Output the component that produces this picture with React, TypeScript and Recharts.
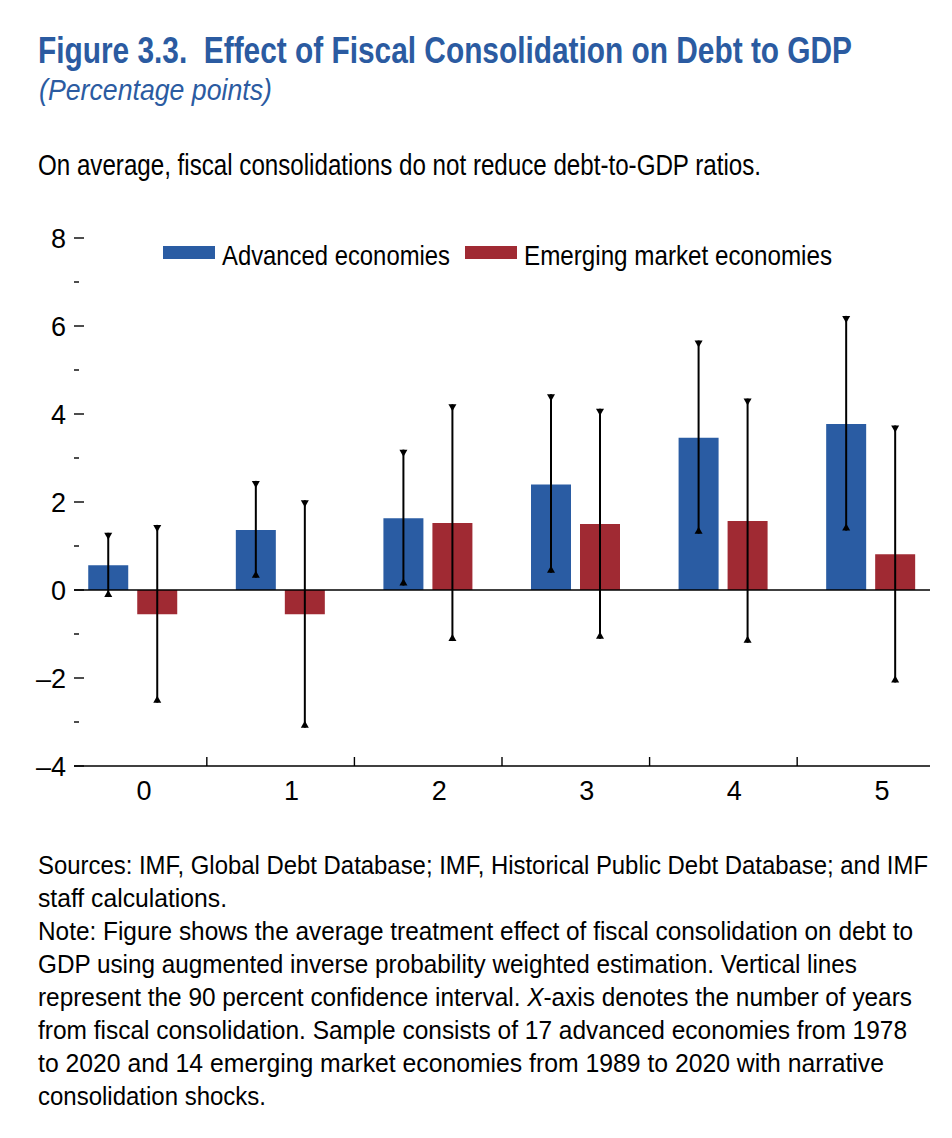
import {
  BarChart,
  Bar,
  XAxis,
  YAxis,
  ReferenceLine,
  Legend,
} from 'recharts'

const years = [0, 1, 2, 3, 4, 5]
const advanced = [0.565, 1.365, 1.63, 2.4, 3.46, 3.77]
const advancedLow = [-0.16, 0.28, 0.1, 0.39, 1.28, 1.35]
const advancedHigh = [1.3, 2.48, 3.19, 4.45, 5.67, 6.23]
const emerging = [-0.55, -0.55, 1.52, 1.5, 1.57, 0.81]
const emergingLow = [-2.56, -3.13, -1.16, -1.11, -1.2, -2.1]
const emergingHigh = [1.48, 2.04, 4.22, 4.12, 4.35, 3.74]

const yTicks = [-4, -3, -2, -1, 0, 1, 2, 3, 4, 5, 6, 7, 8]
const xTicks = [0, 0.5, 1, 1.5, 2, 2.5, 3, 3.5, 4, 4.5, 5]

const seriesNames = ['Advanced economies', 'Emerging market economies']

const notes = [
  'Sources: IMF, Global Debt Database; IMF, Historical Public Debt Database; and IMF',
  'staff calculations.',
  'Note: Figure shows the average treatment effect of fiscal consolidation on debt to',
  'GDP using augmented inverse probability weighted estimation. Vertical lines',
  'represent the 90 percent confidence interval. X-axis denotes the number of years',
  'from fiscal consolidation. Sample consists of 17 advanced economies from 1978',
  'to 2020 and 14 emerging market economies from 1989 to 2020 with narrative',
  'consolidation shocks.',
]
const noteWidths = [890, 189, 875, 819, 874, 869, 846, 228]

const data = years.map((year, i) => ({
  year,
  adv: advanced[i],
  advErr: [advancedLow[i], advancedHigh[i]],
  em: emerging[i],
  emErr: [emergingLow[i], emergingHigh[i]],
}))

const BLUE = '#2a5ca3'
const RED = '#a02a33'
const TITLE = '#2b5ba1'
const FONT = "'Liberation Sans Narrow', 'Liberation Sans', Arial, sans-serif"

const fmt = (v: number) => (v < 0 ? `\u2013${Math.abs(v)}` : `${v}`)

function LeftTick({ x, y, payload }: any) {
  const v = payload.value
  const major = v % 2 === 0
  return (
    <g>
      <line x1={x} x2={x + (major ? 10 : 5)} y1={y} y2={y} stroke="#000" strokeWidth={1.4} />
      {major && (
        <text x={x - 8} y={y} dy="0.36em" textAnchor="end" fontSize={27} fontFamily={FONT} fill="#000">
          {fmt(v)}
        </text>
      )}
    </g>
  )
}

function RightTick({ x, y, payload }: any) {
  const major = payload.value % 2 === 0
  return <line x1={x - (major ? 10 : 5)} x2={x} y1={y} y2={y} stroke="#000" strokeWidth={1.4} />
}

function BottomTick({ x, y, payload }: any) {
  const v = payload.value
  if (Number.isInteger(v)) {
    return (
      <text x={x + 11} y={y + 34} textAnchor="middle" fontSize={27} fontFamily={FONT} fill="#000">
        {v}
      </text>
    )
  }
  return <line x1={x} x2={x} y1={y} y2={y - 9} stroke="#000" strokeWidth={1.4} />
}

function ErrorShape({ x, y, width, height }: any) {
  const cx = x + width / 2
  const top = Math.min(y, y + height)
  const bottom = Math.max(y, y + height)
  return (
    <g>
      <line x1={cx} x2={cx} y1={top} y2={bottom} stroke="#000" strokeWidth={2} />
      <path d={`M${cx - 4},${top}L${cx + 4},${top}L${cx},${top + 7}Z`} fill="#000" />
      <path d={`M${cx - 4},${bottom}L${cx + 4},${bottom}L${cx},${bottom - 7}Z`} fill="#000" />
    </g>
  )
}

function LegendContent({ payload }: any) {
  const items = (payload || []).filter((item: any) => item.type !== 'none')
  const textWidths = [228, 308]
  let cursor = 0
  return (
    <svg width={700} height={30} style={{ display: 'block' }}>
      {items.map((item: any, i: number) => {
        const x0 = cursor
        cursor += 52 + 7 + textWidths[i] + 15
        return (
          <g key={item.value}>
            <rect x={x0} y={2} width={52} height={13} fill={item.color} />
            <text
              x={x0 + 59}
              y={21}
              fontSize={28}
              fontFamily={FONT}
              fill="#000"
              textLength={textWidths[i]}
              lengthAdjust="spacingAndGlyphs"
            >
              {item.value}
            </text>
          </g>
        )
      })}
    </svg>
  )
}

export default function App() {
  return (
    <div style={{ position: 'relative', width: 936, height: 1122, background: '#fff' }}>
      <svg width={936} height={1122} style={{ position: 'absolute', left: 0, top: 0 }}>
        <text x={30} y={55} fontSize={36} fontWeight={700} fontFamily={FONT} fill={TITLE} textLength={814} lengthAdjust="spacingAndGlyphs">
          Figure 3.3.{'\u00a0\u00a0'}Effect of Fiscal Consolidation on Debt to GDP
        </text>
        <text x={31} y={92} fontSize={29} fontStyle="italic" fontFamily={FONT} fill={TITLE} textLength={233} lengthAdjust="spacingAndGlyphs">
          (Percentage points)
        </text>
        <text x={30} y={167} fontSize={29} fontFamily={FONT} fill="#000" textLength={723} lengthAdjust="spacingAndGlyphs">
          On average, fiscal consolidations do not reduce debt-to-GDP ratios.
        </text>
        {notes.map((line, i) => (
          <text key={i} x={30} y={866 + i * 33} fontSize={26} fontFamily={FONT} fill="#000" textLength={noteWidths[i]} lengthAdjust="spacingAndGlyphs">
            {line.includes('X-axis') ? (
              <>
                {line.split('X-axis')[0]}
                <tspan fontStyle="italic">X</tspan>
                {'-axis' + line.split('X-axis')[1]}
              </>
            ) : (
              line
            )}
          </text>
        ))}
      </svg>
      <div style={{ position: 'absolute', left: 0, top: 192 }}>
        <BarChart
          width={936}
          height={640}
          data={data}
          margin={{ top: 38, right: 10, bottom: 24, left: 10 }}
          barSize={40}
          barGap={9}
        >
          <XAxis
            xAxisId="main"
            dataKey="year"
            type="number"
            domain={[-0.4, 5.4]}
            ticks={xTicks}
            interval={0}
            height={50}
            tickSize={0}
            tickMargin={0}
            tickLine={false}
            axisLine={{ stroke: '#000', strokeWidth: 1.4 }}
            tick={<BottomTick />}
          />
          <XAxis xAxisId="err" dataKey="year" type="number" domain={[-0.4, 5.4]} orientation="top" height={0} hide />
          <YAxis
            yAxisId="left"
            domain={[-4, 8]}
            ticks={yTicks}
            interval={0}
            width={56}
            tickSize={0}
            tickMargin={0}
            tickLine={false}
            axisLine={false}
            tick={<LeftTick />}
          />
          <YAxis
            yAxisId="right"
            orientation="right"
            domain={[-4, 8]}
            ticks={yTicks}
            interval={0}
            width={4}
            tickSize={0}
            tickMargin={0}
            tickLine={false}
            axisLine={false}
            tick={<RightTick />}
          />
          <Legend
            layout="horizontal"
            verticalAlign="middle"
            align="center"
            wrapperStyle={{ top: 44, left: 155, width: 700 }}
            content={<LegendContent />}
          />
          <Bar xAxisId="main" yAxisId="left" dataKey="adv" name={seriesNames[0]} fill={BLUE} isAnimationActive={false} />
          <Bar xAxisId="main" yAxisId="left" dataKey="em" name={seriesNames[1]} fill={RED} isAnimationActive={false} />
          <ReferenceLine xAxisId="main" yAxisId="left" y={0} stroke="#000" strokeWidth={1.4} />
          <Bar xAxisId="err" yAxisId="left" dataKey="advErr" legendType="none" shape={<ErrorShape />} isAnimationActive={false} />
          <Bar xAxisId="err" yAxisId="left" dataKey="emErr" legendType="none" shape={<ErrorShape />} isAnimationActive={false} />
        </BarChart>
      </div>
    </div>
  )
}
